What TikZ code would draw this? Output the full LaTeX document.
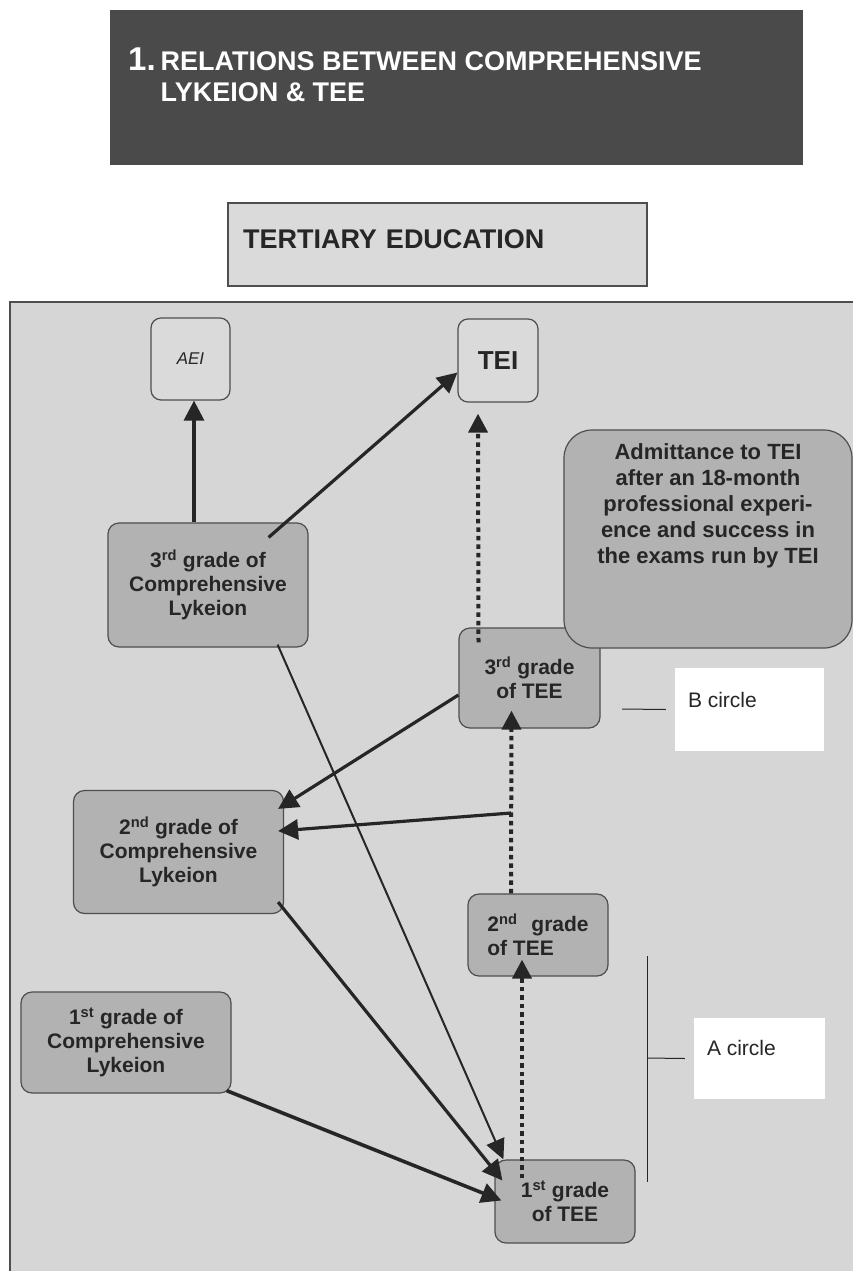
\documentclass[tikz,border=0pt]{standalone}
\usepackage{fontspec}
\setmainfont{Liberation Sans}
\usetikzlibrary{arrows.meta,calc}
\definecolor{titlebg}{HTML}{4A4A4A}
\definecolor{panelbg}{HTML}{D6D6D6}
\definecolor{boxfill}{HTML}{B2B2B2}
\definecolor{endfill}{HTML}{DADADA}
\definecolor{edge}{HTML}{4E4E4E}
\definecolor{ink}{HTML}{262626}
\newcommand\gradefont{\fontsize{21}{24}\selectfont\bfseries}
\newcommand\admfont{\fontsize{22}{26}\selectfont\bfseries}
\newcommand\circfont{\fontsize{21}{24}\selectfont}
\tikzset{
  grade/.style={draw=edge, line width=1.2pt, fill=boxfill, rounded corners=11pt,
    inner sep=0pt, align=center, font=\gradefont, text=ink},
  endbox/.style={draw=edge, line width=1.2pt, fill=endfill, rounded corners=10pt,
    inner sep=0pt, text=ink},
  whitebox/.style={fill=white, inner sep=0pt, font=\circfont, text=ink},
  arr/.style={draw=ink, line width=3.2pt, -{Triangle[length=20pt,width=20pt]}},
  thinarr/.style={draw=ink, line width=2pt, -{Triangle[length=20pt,width=19pt]}},
  dotarr/.style={draw=ink, line width=4pt, dash pattern=on 4.5pt off 4pt,
    -{Triangle[length=19pt,width=19pt]}},
  tick/.style={draw=ink, line width=1pt}
}
\begin{document}
\begin{tikzpicture}[x=1pt,y=-1pt]
\useasboundingbox (0,0) rectangle (853,1271);
\fill[white] (0,0) rectangle (853,1271);

% title
\node[fill=titlebg, anchor=north west, inner xsep=18pt, inner ysep=0pt,
  text height=60pt, text depth=95pt, text=white, font=\bfseries] (title) at (110,10)
  {\makebox[657pt][l]{{\fontsize{33}{33}\selectfont 1.}\hspace{5pt}\parbox[t]{600pt}{\fontsize{27}{31}\selectfont RELATIONS BETWEEN COMPREHENSIVE\\LYKEION \& TEE}}};

% tertiary education
\node[draw=edge, line width=1.2pt, fill=endfill, minimum width=419pt, minimum height=83pt,
  inner xsep=15pt, text width=389pt, align=left, text height=19pt, text depth=12pt,
  font=\fontsize{27}{27}\selectfont\bfseries, text=ink] (tert) at (437.5,244.5) {TERTIARY EDUCATION};

% panel
\fill[panelbg] (10,302) rectangle (853,1271);
\draw[edge, line width=1.5pt] (10,1271) -- (10,302) -- (853,302);

% end boxes
\node[endbox, minimum width=79pt, minimum height=82pt, font=\fontsize{17}{17}\selectfont\itshape] (aei) at (190.5,359) {AEI};
\node[endbox, minimum width=80pt, minimum height=83pt, font=\fontsize{26}{26}\selectfont\bfseries] (tei) at (498,360.5) {TEI};

% grade boxes
\node[grade, minimum width=200pt, minimum height=124pt] (c3) at (208,585)
  {3\textsuperscript{rd} grade of\\Comprehensive\\Lykeion};
\node[grade, minimum width=210pt, minimum height=123pt] (c2) at (178.5,852)
  {2\textsuperscript{nd} grade of\\Comprehensive\\Lykeion};
\node[grade, minimum width=210pt, minimum height=101pt] (c1) at (126,1042.5)
  {1\textsuperscript{st} grade of\\Comprehensive\\Lykeion};
\node[grade, minimum width=141pt, minimum height=100pt] (t3) at (529.5,678)
  {3\textsuperscript{rd} grade\\of TEE};
\node[grade, minimum width=140pt, minimum height=82pt, align=left] (t2) at (538,935)
  {2\textsuperscript{nd}\hspace{14pt}grade\\of TEE};
\node[grade, minimum width=140pt, minimum height=83pt] (t1) at (565,1201.5)
  {1\textsuperscript{st} grade\\of TEE};

% admittance box
\node[grade, rounded corners=28pt, font=\admfont] (adm) at (708,539)
  {\parbox[c][218pt][t]{288pt}{\centering\vspace*{14pt}Admittance to TEI\\after an 18-month\\professional experi-\\ence and success in\\the exams run by TEI}};

% circle labels
\node[whitebox] (bc) at (749.5,709.5)
  {\parbox[c][83pt][t]{149pt}{\vspace*{24pt}\hspace*{13pt}B circle}};
\node[whitebox] (ac) at (759.5,1058.5)
  {\parbox[c][81pt][t]{131pt}{\vspace*{22pt}\hspace*{13pt}A circle}};
\draw[tick] (622,709) -- ($(bc.west)+(-9,0)$);
\coordinate (atop) at (647,956);
\coordinate (abot) at (647,1182);
\draw[tick] (atop) -- (abot);
\draw[tick] (647,1058) -- ($(ac.west)+(-9,0)$);

% connectors
\draw[arr] ($(aei.south |- c3.north)+(3.5,0)$) -- ($(aei.south)+(3.5,0)$);
\draw[arr] ($(c3.north east)+(-40,15)$) -- ($(tei.west)+(0,12)$);
\draw[dotarr] ($(t3.north)+(-51,15)$) -- ($(tei.south)+(-20,11)$);
\draw[arr] ($(t3.west)+(0,17)$) -- ($(c2.north east)+(-6,19)$);
\coordinate (mid) at (511,813);
\draw[arr] (mid) -- ($(c2.east)+(-6,-21)$);
\draw[dotarr] ($(t2.north)+(-27,0)$) -- ($(t3.south)+(-18,-18)$);
\draw[dotarr] ($(t1.north)+(-43,19)$) -- ($(t2.south)+(-16,-17)$);
\draw[thinarr] ($(c3.south east)+(-31,-3)$) -- ($(t1.north west)+(9,0)$);
\draw[arr] ($(c2.south east)+(-6,-12)$) -- ($(t1.west)+(8,-21)$);
\draw[arr, line width=3.6pt] ($(c1.south east)+(-5,-3)$) -- ($(t1.west)+(7,-1)$);
\end{tikzpicture}
\end{document}
